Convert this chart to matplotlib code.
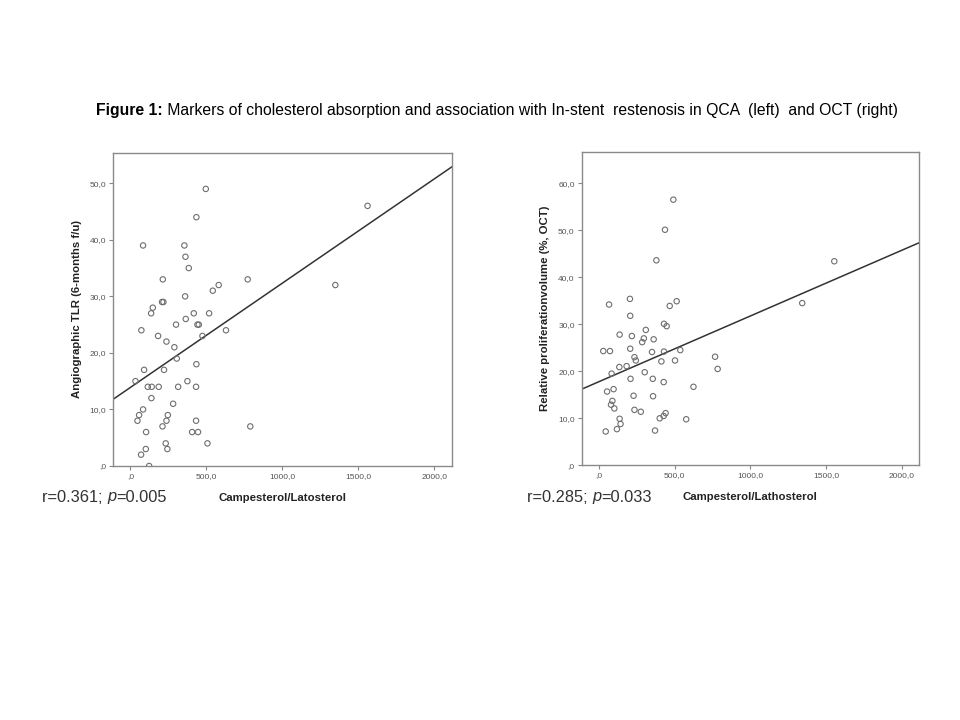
import numpy as np
import matplotlib
matplotlib.use("Agg")
import matplotlib.pyplot as plt

plt.rcParams['font.family'] = ['Liberation Sans', 'DejaVu Sans']

# left panel: QCA (angiographic TLR)
qca_x = [496, 434, 1561, 83, 355, 362, 384, 213, 772, 1349, 581, 542, 360, 208, 217,
         147, 136, 417, 518, 364, 300, 441, 450, 72, 629, 474, 182, 237, 289, 305,
         434, 90, 221, 33, 375, 114, 140, 186, 314, 432, 138, 281, 83, 57, 246,
         46, 237, 432, 211, 789, 103, 406, 445, 232, 507, 101, 243, 70, 123]
qca_y = [49, 44, 46, 39, 39, 37, 35, 33, 33, 32, 32, 31, 30, 29, 29,
         28, 27, 27, 27, 26, 25, 25, 25, 24, 24, 23, 23, 22, 21, 19,
         18, 17, 17, 15, 15, 14, 14, 14, 14, 14, 12, 11, 10, 9, 9,
         8, 8, 8, 7, 7, 6, 6, 6, 4, 4, 3, 3, 2, 0]

# right panel: OCT (relative proliferation volume)
oct_x = [491, 436, 379, 1555, 1343, 204, 66, 513, 467, 206, 429, 447, 309, 136, 217,
         296, 361, 285, 28, 72, 206, 350, 429, 537, 234, 243, 412, 502, 767, 784,
         134, 182, 83, 302, 208, 355, 427, 624, 53, 96, 228, 357, 88, 79, 101,
         234, 276, 440, 427, 401, 576, 136, 142, 118, 44, 370]
oct_y = [56.5, 50.1, 43.6, 43.4, 34.5, 35.4, 34.2, 34.9, 33.9, 31.8, 30.1, 29.6, 28.8, 27.8, 27.5,
         27.0, 26.8, 26.2, 24.3, 24.3, 24.8, 24.1, 24.2, 24.5, 23.0, 22.3, 22.1, 22.3, 23.1, 20.5,
         20.9, 21.1, 19.5, 19.8, 18.4, 18.4, 17.7, 16.7, 15.7, 16.2, 14.8, 14.7, 13.7, 12.9, 12.1,
         11.8, 11.4, 11.1, 10.5, 10.0, 9.8, 9.9, 8.8, 7.7, 7.2, 7.4]

# fit lines (intercept, slope)
qca_fit = [13.9, 0.01843]
oct_fit = [17.8, 0.01396]

x_ticks = [0, 500, 1000, 1500, 2000]
x_labels = [",0", "500,0", "1000,0", "1500,0", "2000,0"]
qca_ticks = [0, 10, 20, 30, 40, 50]
qca_labels = [",0", "10,0", "20,0", "30,0", "40,0", "50,0"]
oct_ticks = [0, 10, 20, 30, 40, 50, 60]
oct_labels = [",0", "10,0", "20,0", "30,0", "40,0", "50,0", "60,0"]

fig = plt.figure(figsize=(9.6, 7.2), dpi=100)


def panel(rect, xs, ys, fit, ylim, yt, yl, ylabel, xlabel, ylab_x, stats):
    ax = fig.add_axes(rect)
    ax.scatter(xs, ys, s=15, facecolors='none', edgecolors='#6e6e6e', linewidths=0.8, zorder=3)
    xx = np.array([-115, 2115])
    ax.plot(xx, fit[0] + fit[1] * xx, color='#333333', lw=1.1, zorder=2)
    ax.set_xlim(-115, 2115)
    ax.set_ylim(0, ylim)
    ax.set_xticks(x_ticks)
    ax.set_xticklabels(x_labels)
    ax.set_yticks(yt)
    ax.set_yticklabels(yl)
    ax.tick_params(labelsize=6, labelcolor='#555555', color='#888888', length=3, width=0.8, pad=2)
    for s in ax.spines.values():
        s.set_color('#8a8a8a')
        s.set_linewidth(1.0)
    ax.set_ylabel(ylabel, fontsize=8.2, fontweight='bold', color='#222222')
    ax.yaxis.set_label_coords(ylab_x, 0.5)
    ax.set_xlabel(xlabel, fontsize=8.2, fontweight='bold', color='#222222')
    ax.xaxis.set_label_coords(0.5, -0.086)
    # r / p text with italic p
    t1 = fig.text(stats[0], stats[1], stats[2], fontsize=11.8, color='#333333', va='center')
    a2 = ax.annotate("p", xycoords=t1, xy=(1, 0.5), va='center', fontsize=11.8,
                     style='italic', color='#333333', annotation_clip=False)
    ax.annotate(stats[3], xycoords=a2, xy=(1, 0.5), va='center', fontsize=11.8,
                color='#333333', annotation_clip=False)
    return ax


panel([0.1177, 0.3528, 0.3528, 0.4351], qca_x, qca_y, qca_fit, 55.4, qca_ticks, qca_labels,
      "Angiographic TLR (6-months f/u)", "Campesterol/Latosterol", -0.092,
      (0.044, 1 - 497 / 720, "r=0.361; ", "=0.005"))
panel([0.6059, 0.3537, 0.3514, 0.4356], oct_x, oct_y, oct_fit, 66.7, oct_ticks, oct_labels,
      "Relative proliferationvolume (%, OCT)", "Campesterol/Lathosterol", -0.094,
      (0.549, 1 - 497 / 720, "r=0.285; ", "=0.033"))

# title with bold "Figure 1:"
tt = fig.text(0.1, 1 - 110 / 720, "Figure 1:", fontsize=11.3, fontweight='bold', va='center')
fig.axes[0].annotate(" Markers of cholesterol absorption and association with In-stent  restenosis in QCA  (left)  and OCT (right)",
                     xycoords=tt, xy=(1, 0.5), va='center', fontsize=11.3, annotation_clip=False)

fig.savefig("out.png", dpi=100)
